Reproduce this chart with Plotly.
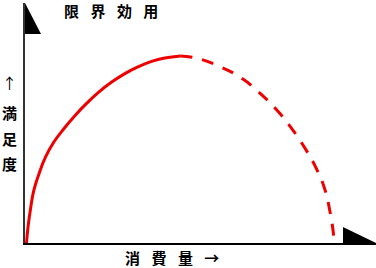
import plotly.graph_objects as go

# Data (consumption units vs satisfaction units)
solid_x = [0, 0.05, 0.14, 0.24, 0.41, 0.62, 0.89, 1.22, 1.58, 1.97, 2.34, 2.77, 3.20, 3.64, 4.07, 4.50, 5.0]
solid_y = [0, 0.87, 1.93, 2.83, 3.72, 4.60, 5.40, 6.12, 6.82, 7.49, 8.06, 8.61, 9.06, 9.43, 9.71, 9.89, 10.0]
dash_x = [5.0, 5.53, 6.29, 7.0, 7.54, 8.14, 8.62, 9.06, 9.45, 9.71, 9.87, 9.98, 10.0]
dash_y = [10.0, 9.88, 9.43, 8.81, 8.09, 7.11, 6.13, 5.06, 3.90, 2.83, 1.67, 0.52, 0]

SEP = "\u2002\u2009\u200a"
title_text = SEP.join(["限", "界", "効", "用"])
xlabel_text = SEP.join(["消", "費", "量", "→"])
ylabel_chars = ["↑", "満", "足", "度"]

FONT = "Noto Sans CJK JP"

fig = go.Figure()
fig.add_trace(go.Scatter(x=solid_x, y=solid_y, mode="lines", line_shape="spline",
                         line=dict(color="#ee0000", width=3, smoothing=1.3), hoverinfo="skip"))
fig.add_trace(go.Scatter(x=dash_x, y=dash_y, mode="lines", line_shape="spline",
                         line=dict(color="#ee0000", width=3, smoothing=1.3, dash="12px,10px"),
                         hoverinfo="skip"))

W, H = 376, 268
L, R, T, B = 25, 0, 3, 25
pw, ph = W - L - R, H - T - B

def px(x):
    return (x - L) / pw

def py(y):
    return (H - B - y) / ph

shapes = [
    dict(type="path", xref="paper", yref="paper",
         path=f"M {px(25)} {py(3)} L {px(25)} {py(34)} L {px(41)} {py(34)} Z",
         fillcolor="black", line=dict(width=0)),
    dict(type="path", xref="paper", yref="paper",
         path=f"M {px(343)} {py(227)} L {px(343)} {py(243)} L {px(376)} {py(243)} Z",
         fillcolor="black", line=dict(width=0)),
]

annotations = [
    dict(text=f"<b>{title_text}</b>", x=px(111), y=py(10), xref="paper", yref="paper",
         showarrow=False, font=dict(family=FONT, size=15, color="black"),
         xanchor="center", yanchor="middle"),
    dict(text=f"<b>{xlabel_text}</b>", x=px(172), y=py(257.5), xref="paper", yref="paper",
         showarrow=False, font=dict(family=FONT, size=15, color="black"),
         xanchor="center", yanchor="middle"),
]
ys = [82, 112, 138, 163]
for ch, yy in zip(ylabel_chars, ys):
    annotations.append(dict(text=f"<b>{ch}</b>" if ch != "↑" else ch, x=px(9), y=py(yy),
                            xref="paper", yref="paper", showarrow=False,
                            font=dict(family=FONT, size=15, color="black"),
                            xanchor="center", yanchor="middle"))

fig.update_layout(
    width=W, height=H,
    margin=dict(l=L, r=R, t=T, b=B, pad=0),
    paper_bgcolor="white", plot_bgcolor="white",
    showlegend=False,
    shapes=shapes, annotations=annotations,
    xaxis=dict(range=[(25 - 26.5) / 30.75, (376 - 26.5) / 30.75], showgrid=False, zeroline=False,
               showticklabels=False, ticks="", showline=True, linecolor="black", linewidth=1.5),
    yaxis=dict(range=[0, 240 / 18.7], showgrid=False, zeroline=False,
               showticklabels=False, ticks="", showline=True, linecolor="#333333", linewidth=1.5),
)

fig.write_html("out.html", config={"displayModeBar": False})
